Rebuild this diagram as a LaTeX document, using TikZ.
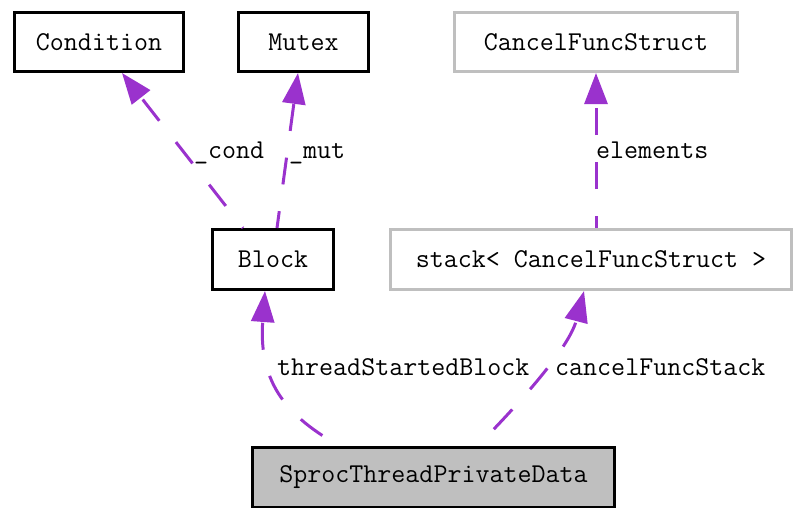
\documentclass[tikz,border=0pt]{standalone}
\usepackage{fontspec}
\usetikzlibrary{arrows.meta,calc}
\definecolor{edgepurple}{RGB}{154,50,205}
\definecolor{boxgray}{RGB}{191,191,191}
\begin{document}
\begin{tikzpicture}[x=1pt,y=-1pt,
  classbox/.style={rectangle,draw=black,line width=3pt,inner sep=0pt,
    font=\ttfamily\fontsize{27.2}{32}\selectfont},
  extbox/.style={classbox,draw=boxgray},
  mainbox/.style={classbox,fill=boxgray},
  lbl/.style={inner sep=0pt,font=\ttfamily\fontsize{27.2}{32}\selectfont},
  member/.style={draw=edgepurple,line width=3pt,dash pattern=on 27pt off 27pt,
    -{Triangle[length=31pt,width=23pt,fill=edgepurple]}}]
\useasboundingbox (0,0) rectangle (794,507);

% classes
\node[classbox,minimum width=169pt,minimum height=59pt] (cond)  at (99,42)    {Condition};
\node[classbox,minimum width=130pt,minimum height=59pt] (mutex) at (303.5,42) {Mutex};
\node[extbox,minimum width=283pt,minimum height=59pt]   (cfs)   at (596,42)   {CancelFuncStruct};
\node[classbox,minimum width=121pt,minimum height=60pt] (block) at (273,259.5) {Block};
\node[extbox,minimum width=401pt,minimum height=60pt]   (stack) at (591,259.5) {stack< CancelFuncStruct >};
\node[mainbox,minimum width=362pt,minimum height=60pt]  (sptd)  at (433.5,477) {SprocThreadPrivateData};

% member relations
\draw[member,dash phase=26pt]  ($(block.north)+(-30,0)$) -- ($(cond.south)+(23,0)$);
\draw[member,dash phase=10pt]  ($(block.north)+(4,0)$)   -- ($(mutex.south)+(-5.5,0)$);
\draw[member,dash phase=15pt]  ($(stack.north)+(5,0)$)   -- (cfs.south);
\draw[member,dash phase=34.6pt] ($(sptd.north)+(-94.5,0)$)
   .. controls (290,418) and (258,385) .. ($(block.south)+(-8,0)$);
\draw[member,dash phase=31.3pt] ($(sptd.north)+(44.5,0)$)
   .. controls (505,418) and (568,352) .. ($(stack.south)+(-7,0)$);

% labels
\node[lbl,anchor=base west] (lcond)  at (194,158) {\_cond};
\node[lbl,anchor=base west] (lmut)   at (289,158) {\_mut};
\node[lbl,anchor=base west] (lelem)  at (596,158) {elements};
\node[lbl,anchor=base west] (ltsb)   at (277,375) {threadStartedBlock};
\node[lbl,anchor=base west] (lcfs)   at (555,375) {cancelFuncStack};
\end{tikzpicture}
\end{document}
